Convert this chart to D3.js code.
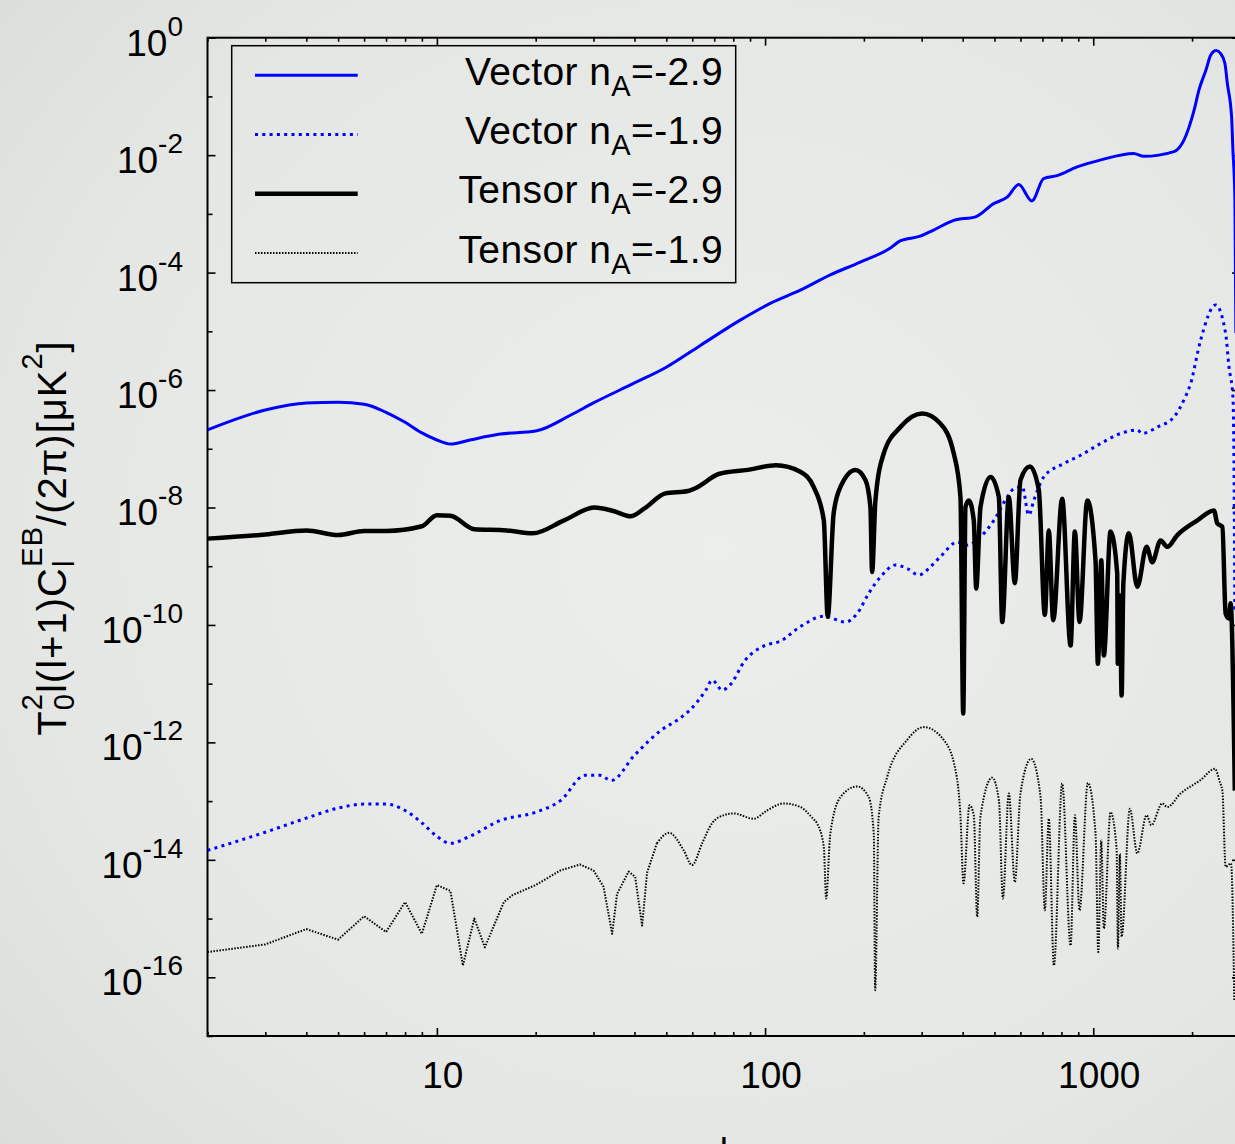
<!DOCTYPE html>
<html>
<head>
<meta charset="utf-8">
<script src="https://cdn.jsdelivr.net/npm/d3@7"></script>
<style>
  html, body { margin: 0; padding: 0; background: #e4e6e3; }
  svg { display: block; }
  text { font-family: "Liberation Sans", Arial, Helvetica, sans-serif; fill: #000; }
</style>
</head>
<body>
<svg id="chart" width="1235" height="1144"></svg>
<script>
// EB cross power T0^2 l(l+1)C_l^EB/(2π) [μK^2] against multipole l, as [l, value]

// vector mode, n_A = -2.9
const vectorSteep = [
  [2, 2.09e-7], [3, 4.57e-7], [4, 6.03e-7], [5, 6.17e-7], [6, 5.75e-7], [7, 4.17e-7],
  [8, 2.82e-7], [9, 1.86e-7], [10, 1.41e-7], [11, 1.20e-7], [12.6, 1.41e-7], [15.6, 1.78e-7],
  [20, 2.0e-7], [25.5, 3.72e-7], [30, 6.03e-7], [40, 1.32e-6], [50, 2.45e-6], [63.5, 5.75e-6],
  [84, 1.55e-5], [104, 3.02e-5], [128, 5.01e-5], [158, 9.12e-5], [195, 1.51e-4], [241, 2.63e-4],
  [258, 3.47e-4], [297, 4.17e-4], [325, 5.25e-4], [376, 7.76e-4], [438, 8.91e-4], [496, 1.48e-3],
  [548, 1.95e-3], [593, 3.16e-3], [650, 1.66e-3], [706, 3.98e-3], [776, 4.47e-3], [893, 6.31e-3],
  [1056, 8.32e-3], [1327, 1.07e-2], [1425, 9.55e-3], [1762, 1.15e-2], [1824, 1.32e-2],
  [1891, 1.82e-2], [2030, 5.89e-2], [2100, 0.129], [2205, 0.282], [2279, 0.501], [2370, 0.603],
  [2445, 0.537], [2519, 0.363], [2562, 0.166], [2640, 4.47e-2], [2664, 1.23e-2], [2702, 1.74e-3],
  [2720, 9.33e-6]
];

// vector mode, n_A = -1.9
const vectorFlat = [
  [2, 1.45e-14], [3, 2.95e-14], [4, 5.13e-14], [5, 7.59e-14], [6, 8.91e-14], [7, 8.91e-14],
  [8, 6.92e-14], [9, 4.27e-14], [10, 2.51e-14], [11, 1.91e-14], [12.6, 2.51e-14], [15.6, 4.68e-14],
  [20, 6.46e-14], [23.8, 1.02e-13], [28.3, 2.75e-13], [31.4, 2.75e-13], [34, 2.24e-13],
  [40, 6.03e-13], [48, 1.58e-12], [55, 2.57e-12], [59, 3.55e-12], [66, 7.76e-12], [69, 1.15e-11],
  [74, 7.76e-12], [78, 9.33e-12], [87, 2.51e-11], [100, 4.47e-11], [111, 5.25e-11], [128, 9.33e-11],
  [151, 1.41e-10], [176, 1.12e-10], [191, 1.58e-10], [207, 3.47e-10], [225, 6.61e-10],
  [250, 1.05e-9], [271, 9.12e-10], [294, 7.08e-10], [319, 9.77e-10], [342, 1.45e-9],
  [385, 2.57e-9], [413, 2.29e-9], [453, 3.16e-9], [498, 6.03e-9], [547, 1.51e-8], [573, 2.09e-8],
  [608, 2.24e-8], [636, 7.41e-9], [659, 1.32e-8], [707, 3.31e-8], [814, 5.62e-8], [915, 7.76e-8],
  [1053, 1.23e-7], [1211, 1.82e-7], [1362, 2.09e-7], [1411, 1.82e-7], [1567, 2.34e-7],
  [1761, 3.47e-7], [1889, 6.76e-7], [1980, 1.29e-6], [2124, 7.08e-6], [2360, 2.82e-5],
  [2532, 9.12e-6], [2591, 2.51e-6], [2664, 7.76e-7], [2690, 1.0e-8], [2700, 1.58e-10]
];

// tensor mode, n_A = -2.9
const tensorSteep = [
  [2, 2.95e-9], [3, 3.47e-9], [4, 4.07e-9], [5, 3.39e-9], [6, 3.98e-9], [7, 3.98e-9],
  [9, 4.79e-9], [10, 7.41e-9], [11, 7.24e-9], [13, 4.27e-9], [16.3, 4.07e-9], [19.6, 3.63e-9],
  [24.4, 6.03e-9], [30.2, 1.0e-8], [34.5, 8.71e-9], [38.9, 7.08e-9], [42.8, 9.55e-9],
  [49.7, 1.74e-8], [58.2, 1.91e-8], [62.4, 2.24e-8], [72.2, 3.72e-8], [88.5, 4.37e-8],
  [108, 5.25e-8], [128, 4.07e-8], [140.6, 2.24e-8], [151, 6.03e-9], [155.2, 1.38e-10],
  [161.8, 7.94e-9], [169.7, 2.24e-8], [188.6, 4.37e-8], [202.2, 2.95e-8], [209.4, 1.02e-8],
  [211.9, 7.94e-10], [216.9, 1.32e-8], [229.9, 8.32e-8], [258.5, 2.34e-7], [301, 3.98e-7],
  [342, 2.69e-7], [375.8, 8.32e-8], [393.9, 1.51e-8], [401.6, 3.09e-12], [408, 1.02e-8],
  [417.6, 1.32e-8], [432.5, 6.03e-9], [439.9, 4.17e-10], [453.4, 1.02e-8], [486.4, 3.31e-8],
  [515.6, 1.51e-8], [528, 1.12e-10], [553, 1.51e-8], [576.8, 5.13e-10], [600.2, 2.95e-8],
  [641, 5.01e-8], [682.5, 2.0e-8], [712, 1.48e-10], [732, 4.07e-9], [755, 1.20e-10],
  [804, 1.41e-8], [853, 4.47e-11], [879, 3.89e-9], [908, 1.12e-10], [959, 1.32e-8],
  [1016, 1.26e-9], [1033, 2.19e-11], [1058, 1.26e-9], [1077, 3.02e-11], [1129, 3.89e-9],
  [1183, 7.59e-10], [1188, 2.19e-11], [1207, 3.16e-10], [1220, 6.31e-12], [1235, 5.01e-10],
  [1284, 3.63e-9], [1362, 4.47e-10], [1454, 2.14e-9], [1513, 1.17e-9], [1604, 2.75e-9],
  [1681, 2.14e-9], [1804, 3.39e-9], [2075, 6.03e-9], [2332, 8.91e-9], [2388, 5.37e-9],
  [2474, 4.68e-9], [2532, 1.55e-10], [2591, 1.29e-10], [2622, 2.34e-10], [2683, 1.58e-12],
  [2700, 1.51e-13]
];

// tensor mode, n_A = -1.9
const tensorFlat = [
  [2, 2.69e-16], [3, 3.63e-16], [4, 6.61e-16], [5, 4.37e-16], [6, 1.10e-15], [7, 5.89e-16],
  [8, 1.91e-15], [9, 5.50e-16], [10, 3.72e-15], [11, 2.95e-15], [12, 1.58e-16], [13, 1.0e-15],
  [14, 3.24e-16], [16, 1.91e-15], [17, 2.51e-15], [20, 3.72e-15], [23.8, 6.61e-15],
  [27.3, 8.32e-15], [30, 6.61e-15], [32.2, 3.47e-15], [34.2, 5.50e-16], [35.4, 2.63e-15],
  [38.4, 6.31e-15], [40.2, 5.13e-15], [42.2, 7.59e-16], [43.7, 6.03e-15], [46.8, 1.91e-14],
  [51, 2.88e-14], [56.5, 1.45e-14], [59.9, 8.13e-15], [64.3, 1.91e-14], [68.9, 4.17e-14],
  [74.8, 5.75e-14], [80.2, 6.17e-14], [92.3, 5.01e-14], [101.4, 6.92e-14], [114, 9.12e-14],
  [128, 7.94e-14], [140, 5.01e-14], [144, 4.17e-14], [151, 1.66e-14], [153.5, 2.19e-15],
  [158, 2.75e-14], [169.7, 1.17e-13], [190.8, 1.78e-13], [207, 1.17e-13], [214.4, 2.75e-14],
  [216.5, 6.03e-17], [221.9, 5.37e-14], [235.5, 2.57e-13], [271, 1.10e-12], [304.4, 1.82e-12],
  [350.3, 1.10e-12], [380.3, 3.39e-13], [394, 5.37e-14], [402.3, 3.98e-15], [419.8, 8.51e-14],
  [432.5, 5.75e-14], [443, 1.07e-15], [453, 5.37e-14], [492, 2.51e-13], [516, 1.02e-13],
  [530.3, 2.19e-15], [553, 1.35e-13], [577, 4.17e-15], [600, 1.35e-13], [647, 5.25e-13],
  [691, 1.17e-13], [712, 1.38e-15], [732, 5.01e-14], [758.6, 1.58e-16], [804, 2.0e-13],
  [853, 3.47e-16], [879, 5.75e-14], [908, 1.38e-15], [963, 2.04e-13], [1016, 2.82e-14],
  [1036, 2.69e-16], [1058, 2.14e-14], [1077, 6.76e-16], [1129, 6.46e-14], [1178, 1.55e-14],
  [1189, 3.09e-16], [1205, 1.26e-14], [1220, 4.90e-16], [1293, 7.41e-14], [1362, 1.29e-14],
  [1454, 5.75e-14], [1503, 3.89e-14], [1623, 9.12e-14], [1681, 7.94e-14], [1846, 1.35e-13],
  [2124, 2.29e-13], [2349, 3.55e-13], [2432, 2.09e-13], [2474, 1.51e-13], [2532, 7.59e-15],
  [2630, 8.71e-15], [2690, 4.07e-17]
];

// axis labelling
const xTickLabels = ["10", "100", "1000"];
const yTickExponents = ["0", "-2", "-4", "-6", "-8", "-10", "-12", "-14", "-16"];
const legendNames = ["Vector", "Vector", "Tensor", "Tensor"];
const legendIndex = ["-2.9", "-1.9", "-2.9", "-1.9"];

const W = 1235, H = 1144;
const plot = { left: 207.5, right: 1240, top: 37.7, bottom: 1036 };

const svg = d3.select("#chart");
const defs = svg.append("defs");

// soft page tone, slightly lighter toward the middle
const grad = defs.append("radialGradient").attr("id", "page")
  .attr("cx", "58%").attr("cy", "48%").attr("r", "78%");
grad.append("stop").attr("offset", "0%").attr("stop-color", "#eceeec");
grad.append("stop").attr("offset", "70%").attr("stop-color", "#e5e7e4");
grad.append("stop").attr("offset", "100%").attr("stop-color", "#dbdddb");
svg.append("rect").attr("width", W).attr("height", H).attr("fill", "url(#page)");

defs.append("clipPath").attr("id", "plotClip").append("rect")
  .attr("x", plot.left).attr("y", plot.top)
  .attr("width", plot.right - plot.left).attr("height", plot.bottom - plot.top);

const x = d3.scaleLog().domain([2, 2800]).range([plot.left, plot.right]);
const y = d3.scaleLog().domain([1e-17, 1]).range([plot.bottom, plot.top]);

// ---- ticks (all pointing into the frame) ----
const xAll = x.ticks();
const isDecade = v => Math.abs(Math.log10(v) - Math.round(Math.log10(v))) < 1e-9;
const xMajor = xAll.filter(isDecade);
const xMinor = xAll.filter(v => !isDecade(v));
const yDecades = d3.range(-17, 1).map(e => Math.pow(10, e));
const yMajor = yTickExponents.map(e => Math.pow(10, +e));
const yMinor = yDecades.filter(v => !yMajor.some(m => Math.abs(Math.log10(m) - Math.log10(v)) < 1e-9));

function tickSet(axis, tx, ty) {
  const g = svg.append("g").attr("transform", `translate(${tx},${ty})`).call(axis);
  g.select(".domain").remove();
  g.selectAll("line").attr("stroke", "#000").attr("stroke-width", 1.6);
  g.selectAll("text").remove();
  return g;
}
tickSet(d3.axisBottom(x).tickValues(xMajor).tickSize(-8).tickFormat(""), 0, plot.bottom);
tickSet(d3.axisBottom(x).tickValues(xMinor).tickSize(-4).tickFormat(""), 0, plot.bottom);
tickSet(d3.axisTop(x).tickValues(xMajor).tickSize(-8).tickFormat(""), 0, plot.top);
tickSet(d3.axisTop(x).tickValues(xMinor).tickSize(-4).tickFormat(""), 0, plot.top);
tickSet(d3.axisLeft(y).tickValues(yMajor).tickSize(-8).tickFormat(""), plot.left, 0);
tickSet(d3.axisLeft(y).tickValues(yMinor).tickSize(-5).tickFormat(""), plot.left, 0);
tickSet(d3.axisRight(y).tickValues(yMajor).tickSize(-8).tickFormat(""), plot.right, 0);
tickSet(d3.axisRight(y).tickValues(yMinor).tickSize(-5).tickFormat(""), plot.right, 0);

// frame
svg.append("rect")
  .attr("x", plot.left).attr("y", plot.top)
  .attr("width", plot.right - plot.left).attr("height", plot.bottom - plot.top)
  .attr("fill", "none").attr("stroke", "#000").attr("stroke-width", 2);

// x tick labels
svg.append("g").selectAll("text").data(xTickLabels).join("text")
  .attr("x", d => x(+d) + 6).attr("y", 1088)
  .attr("text-anchor", "middle").attr("font-size", 37)
  .text(d => d);

// y tick labels: 10 with exponent
const yl = svg.append("g").selectAll("text").data(yTickExponents).join("text")
  .attr("x", 183).attr("y", d => y(Math.pow(10, +d)) + 18)
  .attr("text-anchor", "end").attr("font-size", 37);
yl.append("tspan").text("10");
yl.append("tspan").attr("dy", -20).attr("font-size", 28).text(d => d);

// axis titles
svg.append("text").attr("x", (plot.left + plot.right) / 2).attr("y", 1163.5)
  .attr("text-anchor", "middle").attr("font-size", 37).text("l");

const yt = svg.append("text")
  .attr("transform", "translate(66,538) rotate(-90)")
  .attr("text-anchor", "middle").attr("font-size", 40)
  .attr("letter-spacing", 1);
yt.append("tspan").text("T");
yt.append("tspan").attr("dy", 8).attr("font-size", 29).text("0");
yt.append("tspan").attr("dx", -17).attr("dy", -32).attr("font-size", 29).text("2");
yt.append("tspan").attr("dy", 24).text("l(l+1)C");
yt.append("tspan").attr("dy", 8).attr("font-size", 29).text("l");
yt.append("tspan").attr("dx", -7).attr("dy", -32).attr("font-size", 29).text("EB");
yt.append("tspan").attr("dy", 24).text("/(2π)[μK");
yt.append("tspan").attr("dy", -24).attr("font-size", 29).text("2");
yt.append("tspan").attr("dy", 24).text("]");

// ---- curves ----
// linearBelow: the sampled integer multipoles at low l are joined with straight segments
const styles = [
  { data: vectorSteep, color: "#0000ff", width: 3, dash: null, linearBelow: 0 },
  { data: vectorFlat, color: "#0000ff", width: 3, dash: "3,4.3", linearBelow: 0 },
  { data: tensorSteep, color: "#000000", width: 4.5, dash: null, linearBelow: 0 },
  { data: tensorFlat, color: "#000000", width: 2, dash: "1.5,1.5", linearBelow: 46.8 }
];
const smooth = d3.line().x(d => x(d[0])).y(d => y(d[1])).curve(d3.curveMonotoneX);
const straight = d3.line().x(d => x(d[0])).y(d => y(d[1])).curve(d3.curveLinear);
const curves = svg.append("g").attr("clip-path", "url(#plotClip)");
styles.forEach(s => {
  const parts = s.linearBelow > 0
    ? [[s.data.filter(d => d[0] <= s.linearBelow), straight],
       [s.data.filter(d => d[0] >= s.linearBelow), smooth]]
    : [[s.data, smooth]];
  parts.forEach(([pts, gen]) => {
    curves.append("path").datum(pts)
      .attr("d", gen)
      .attr("fill", "none")
      .attr("stroke", s.color)
      .attr("stroke-width", s.width)
      .attr("stroke-linejoin", "round")
      .attr("stroke-dasharray", s.dash);
  });
});

// ---- legend ----
svg.append("rect").attr("x", 231.7).attr("y", 45.7).attr("width", 504).attr("height", 237)
  .attr("fill", "none").attr("stroke", "#000").attr("stroke-width", 1.5);
styles.forEach((s, i) => {
  const ly = 75.3 + i * 59.2;
  svg.append("line").attr("x1", 255).attr("x2", 357.7).attr("y1", ly).attr("y2", ly)
    .attr("stroke", s.color).attr("stroke-width", s.width)
    .attr("stroke-dasharray", s.dash);
  const t = svg.append("text").attr("x", 723).attr("y", ly + 9.7)
    .attr("text-anchor", "end").attr("font-size", 39).attr("letter-spacing", 0.4);
  t.append("tspan").text(legendNames[i] + " n");
  t.append("tspan").attr("dy", 11).attr("font-size", 29).text("A");
  t.append("tspan").attr("dy", -11).text("=" + legendIndex[i]);
});
</script>
</body>
</html>
